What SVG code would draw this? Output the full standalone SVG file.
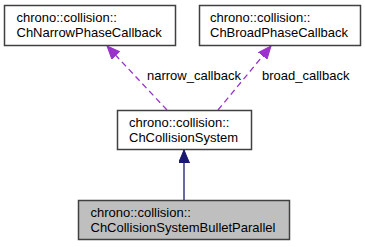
<svg xmlns="http://www.w3.org/2000/svg" width="365" height="247" viewBox="0 0 365 247">
  <style>
    .box { fill: #ffffff; stroke: #404040; stroke-width: 1.5; }
    .cur { fill: #bfbfbf; stroke: #404040; stroke-width: 1.5; }
    text { font-family: "Liberation Sans", Arial, sans-serif; font-size: 13px; fill: #000000; }
    .use { stroke: #9a32cd; stroke-width: 1.3; fill: none; stroke-dasharray: 6 4; }
    .inh { stroke: #191970; stroke-width: 1.3; fill: none; }
  </style>
  <defs>
    <marker id="headUse" markerWidth="13" markerHeight="11" refX="13" refY="5.5" orient="auto" markerUnits="userSpaceOnUse" viewBox="0 0 13 11">
      <path d="M0,0 L13,5.5 L0,11 Z" fill="#9a32cd" stroke="#9a32cd"/>
    </marker>
    <marker id="headInh" markerWidth="13" markerHeight="11" refX="13" refY="5.5" orient="auto" markerUnits="userSpaceOnUse" viewBox="0 0 13 11">
      <path d="M0,0 L13,5.5 L0,11 Z" fill="#191970" stroke="#191970"/>
    </marker>
  </defs>

  <g id="connectors">
    <path class="use" d="M167,110 L107,46" marker-end="url(#headUse)"/>
    <text x="147" y="80">narrow_callback</text>
    <path class="use" d="M218,110 L271,46" marker-end="url(#headUse)"/>
    <text x="262" y="80">broad_callback</text>
    <path class="inh" d="M184,200 L184,150" marker-end="url(#headInh)"/>
  </g>

  <g id="narrow">
    <rect class="box" x="4.5" y="5.5" width="171" height="40"/>
    <text x="16.5" y="22">chrono::collision::</text>
    <text x="16.5" y="37">ChNarrowPhaseCallback</text>
  </g>

  <g id="broad">
    <rect class="box" x="199.5" y="5.5" width="161" height="40"/>
    <text x="210" y="22">chrono::collision::</text>
    <text x="210" y="37">ChBroadPhaseCallback</text>
  </g>

  <g id="system">
    <rect class="box" x="117.5" y="110.5" width="134" height="39"/>
    <text x="129" y="127">chrono::collision::</text>
    <text x="129" y="142">ChCollisionSystem</text>
  </g>

  <g id="bullet">
    <rect class="cur" x="78.5" y="200.5" width="211" height="39"/>
    <text x="90.5" y="217">chrono::collision::</text>
    <text x="90.5" y="232">ChCollisionSystemBulletParallel</text>
  </g>
</svg>
